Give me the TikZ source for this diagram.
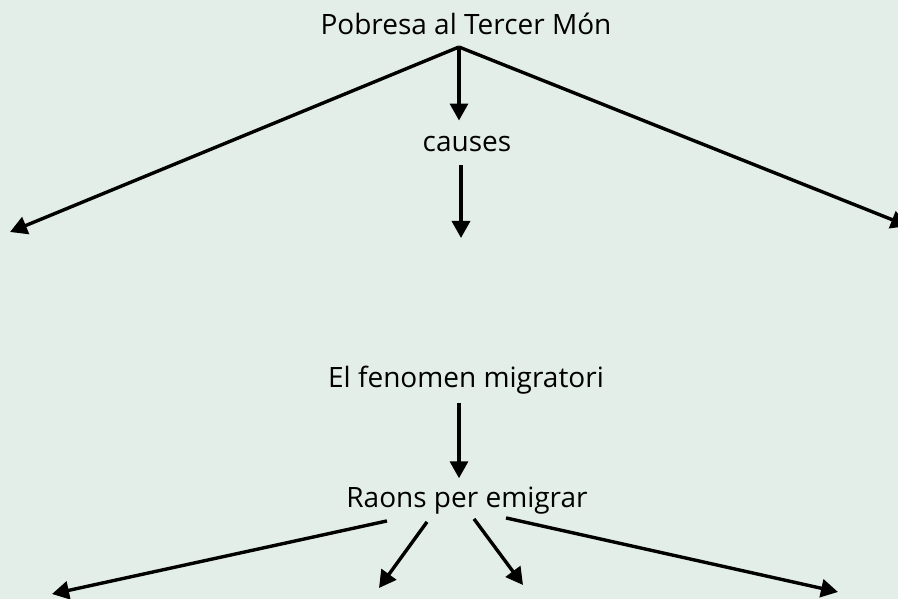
\documentclass[tikz,border=0pt]{standalone}
\usepackage{fontspec}
\setmainfont{Open Sans}
\usepackage{xcolor}
\usetikzlibrary{arrows.meta, positioning}
\definecolor{bgcol}{RGB}{228,238,232}
\tikzset{
  term/.style={anchor=base, inner sep=0pt, text=black, font=\fontsize{28}{33}\selectfont},
  arrow/.style={-{Triangle[length=17pt, width=18pt]}, line width=3.4pt},
}

\begin{document}
\begin{tikzpicture}[x=1pt, y=-1pt]
    \fill[bgcol] (0,0) rectangle (898,599);
    \useasboundingbox (0,0) rectangle (898,599);
    \node[term] (pobresa) at (466,35) {Pobresa al Tercer Món};
    \node[term] (causes) at (467,152) {causes};
    \node[term] (fenomen) at (466,387) {El fenomen migratori};
    \node[term] (raons) at (467,507) {Raons per emigrar};
    \coordinate (apex) at (459,47);
    \coordinate (farleft) at (10,232);
    \coordinate (farright) at (908,226);
    \coordinate (gap) at (461,238);
    \coordinate (r1) at (52,594);
    \coordinate (r2) at (379,588);
    \coordinate (r3) at (523,585);
    \coordinate (r4) at (838,592);
    \draw[arrow] (apex) -- (farleft);
    \draw[arrow] (apex) -- (farright);
    \draw[arrow] (apex) -- ([xshift=-8pt, yshift=16pt]causes.north);
    \draw[arrow] ([xshift=-6pt, yshift=-13pt]causes.south) -- (gap);
    \draw[arrow] ([xshift=-7pt, yshift=-9pt]fenomen.south) -- ([xshift=-8pt, yshift=8pt]raons.north);
    \draw[arrow] ([xshift=-80pt, yshift=-7pt]raons.south) -- (r1);
    \draw[arrow] ([xshift=-40pt, yshift=-8pt]raons.south) -- (r2);
    \draw[arrow] ([xshift=7pt, yshift=-5pt]raons.south) -- (r3);
    \draw[arrow] ([xshift=39pt, yshift=-4pt]raons.south) -- (r4);
\end{tikzpicture}
\end{document}
